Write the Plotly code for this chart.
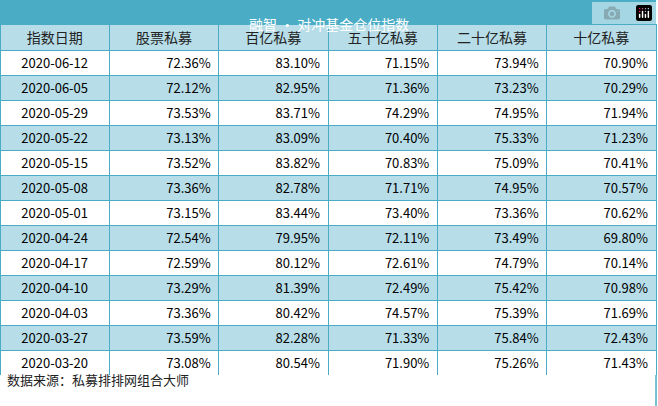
import plotly.graph_objects as go

title = "融智 • 对冲基金仓位指数"
columns = ["指数日期", "股票私募", "百亿私募", "五十亿私募", "二十亿私募", "十亿私募"]
dates = ["2020-06-12", "2020-06-05", "2020-05-29", "2020-05-22", "2020-05-15", "2020-05-08",
         "2020-05-01", "2020-04-24", "2020-04-17", "2020-04-10", "2020-04-03", "2020-03-27", "2020-03-20"]
stock = ["72.36%", "72.12%", "73.53%", "73.13%", "73.52%", "73.36%", "73.15%", "72.54%", "72.59%", "73.29%", "73.36%", "73.59%", "73.08%"]
b100 = ["83.10%", "82.95%", "83.71%", "83.09%", "83.82%", "82.78%", "83.44%", "79.95%", "80.12%", "81.39%", "80.42%", "82.28%", "80.54%"]
b50 = ["71.15%", "71.36%", "74.29%", "70.40%", "70.83%", "71.71%", "73.40%", "72.11%", "72.61%", "72.49%", "74.57%", "71.33%", "71.90%"]
b20 = ["73.94%", "73.23%", "74.95%", "75.33%", "75.09%", "74.95%", "73.36%", "73.49%", "74.79%", "75.42%", "75.39%", "75.84%", "75.26%"]
b10 = ["70.90%", "70.29%", "71.94%", "71.23%", "70.41%", "70.57%", "70.62%", "69.80%", "70.14%", "70.98%", "71.69%", "72.43%", "71.43%"]
source = "数据来源：私募排排网组合大师"

W, H = 658, 406
border = "#4BACC6"
light = "#B7DDE8"
fills = [["white" if i % 2 == 0 else light for i in range(len(dates))]] * 6
font = "Noto Sans CJK SC"

fig = go.Figure(go.Table(
    columnwidth=[1] * 6,
    header=dict(values=columns, fill_color=light, line_color=border, height=26,
                align="center", font=dict(family=font, size=14, color="#222")),
    cells=dict(values=[dates, stock, b100, b50, b20, b10], fill_color=fills,
               line_color=border, height=25, align=["center"] + ["right"] * 5,
               font=dict(family=font, size=13, color="black")),
    domain=dict(x=[0, 0.997], y=[1 - 375 / H, 1 - 24 / H]),
))
fig.add_shape(type="rect", xref="paper", yref="paper", x0=0, x1=0.997, y0=1 - 24 / H, y1=1,
              fillcolor=border, line_width=0, layer="below")
fig.add_annotation(text=title, xref="paper", yref="paper", x=0.5, y=1 - 12 / H,
                   showarrow=False, font=dict(family=font, size=14, color="white"))
fig.add_annotation(text=source, xref="paper", yref="paper", x=0.008, y=1 - 391 / H,
                   xanchor="left", showarrow=False, font=dict(family=font, size=13, color="#222"))
fig.add_shape(type="line", xref="paper", yref="paper", x0=0.997, x1=0.997, y0=0, y1=1 - 375 / H,
              line=dict(color=border, width=1.5))
fig.update_layout(width=W, height=H, margin=dict(l=0, r=0, t=0, b=0),
                  paper_bgcolor="white", plot_bgcolor="white")
fig.write_html("out.html", post_script="document.body.style.margin='0';document.body.style.overflow='hidden';")
